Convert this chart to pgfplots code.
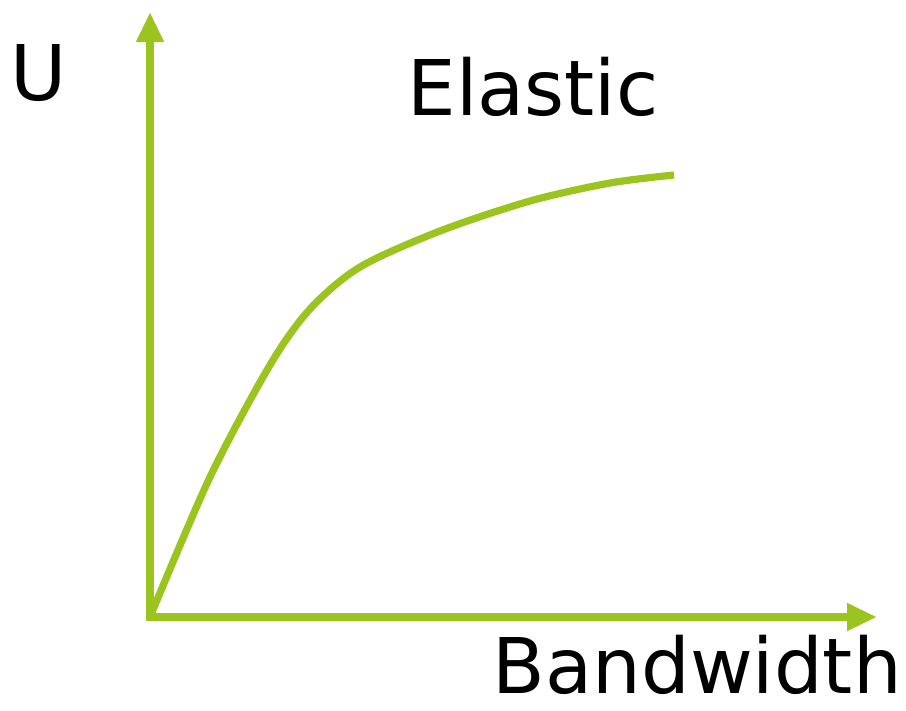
\documentclass[border=0pt]{standalone}
\usepackage{pgfplots}
\pgfplotsset{compat=1.18}
\usepackage{fontspec}
\setmainfont{DejaVu Sans}
\usetikzlibrary{arrows.meta}
\definecolor{elastgreen}{RGB}{155,196,30}
\begin{document}
\begin{tikzpicture}
% one unit = one pixel of the reference (0.25pt), origin at the axes' corner
\useasboundingbox (-37.5pt,-23.25pt) rectangle (189pt,154.25pt);
\begin{axis}[
  scale only axis, width=181.75pt, height=151.25pt,
  xmin=0, xmax=727, ymin=0, ymax=605,
  axis lines=left,
  axis line style={elastgreen, line width=2.2pt, line cap=rect,
    -{Triangle[length=7.5pt, width=6.5pt]}},
  xtick=\empty, ytick=\empty,
  clip=false,
]
\addplot[elastgreen, line width=1.8pt, smooth, tension=0.5] coordinates {
  (0,0) (60,140) (120,252) (160,308) (210,350) (290,386)
  (380,416) (460,434) (524,442)
};
\node[anchor=base west, inner sep=0pt, font=\fontsize{19.2}{23}\selectfont]
  at (axis cs:-140,517) {U};
\node[anchor=base west, inner sep=0pt, font=\fontsize{19.2}{23}\selectfont]
  at (axis cs:257,502) {Elastic};
\node[anchor=base west, inner sep=0pt, font=\fontsize{19.2}{23}\selectfont]
  at (axis cs:342,-76) {Bandwidth};
\end{axis}
\end{tikzpicture}
\end{document}
